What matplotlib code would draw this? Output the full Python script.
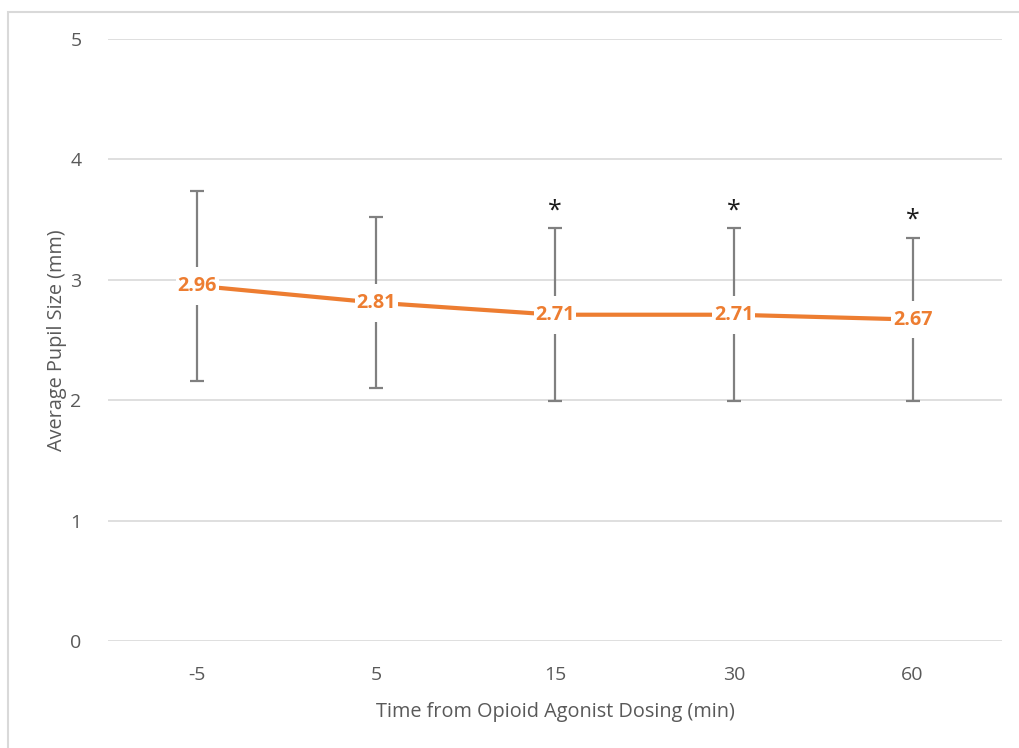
import matplotlib
matplotlib.use("Agg")
import matplotlib.pyplot as plt
from matplotlib.patches import Rectangle
from matplotlib.path import Path

categories = ["-5", "5", "15", "30", "60"]
means = [2.96, 2.81, 2.71, 2.71, 2.67]
line_y = [2.95, 2.81, 2.71, 2.71, 2.67]
errors = [0.79, 0.71, 0.72, 0.72, 0.68]
significant = [False, False, True, True, True]
y_ticks = [0, 1, 2, 3, 4, 5]

plt.rcParams['font.family'] = ['Open Sans', 'DejaVu Sans']


def label_box(x0, y0, width, height, mutation_size):
    px = 0.08 * mutation_size
    py = 0.45 * mutation_size
    x0, x1 = x0 - px, x0 + width + px
    y0, y1 = y0 - py, y0 + height + py
    return Path([(x0, y0), (x1, y0), (x1, y1), (x0, y1), (x0, y0)], closed=True)


fig = plt.figure(figsize=(10.2, 7.48), dpi=100)
fig.patches.append(Rectangle((8/1020, -0.1), 1.2, 1 - 12/748 + 0.1, transform=fig.transFigure,
                             fill=False, edgecolor='#d9d9d9', linewidth=1.5))
ax = fig.add_axes([108/1020, 1 - 641/748, 894/1020, 602/748])

x = list(range(len(categories)))
ax.errorbar(x, line_y, yerr=errors, fmt='none', ecolor='#808080', elinewidth=1.6,
            capsize=5, capthick=1.6, zorder=2)
ax.plot(x, line_y, color='#ED7D31', linewidth=3, zorder=3, solid_capstyle='butt')

for xi, yi, m in zip(x, line_y, means):
    ax.text(xi, yi, f"{m:.2f}", ha='center', va='center', color='#ED7D31',
            fontsize=14.2, fontweight='bold', zorder=4,
            bbox=dict(boxstyle=label_box, facecolor='white', edgecolor='none'))

for xi, yi, e, s in zip(x, line_y, errors, significant):
    if s:
        ax.text(xi, yi + e + 0.04, "*", ha='center', va='bottom', color='#1a1a1a',
                fontsize=18, zorder=4)

ax.set_xlim(-0.5, len(categories) - 0.5)
ax.set_ylim(0, 5)
ax.set_yticks(y_ticks)
ax.set_xticks(x)
ax.set_xticklabels(categories)
ax.grid(axis='y', color='#d9d9d9', linewidth=1.2)
ax.set_axisbelow(True)
for sp in ax.spines.values():
    sp.set_visible(False)
ax.tick_params(axis='both', length=0, labelsize=14, labelcolor='#595959')
ax.tick_params(axis='y', pad=19)
ax.tick_params(axis='x', pad=18)
xl = ax.set_xlabel("Time from Opioid Agonist Dosing (min)", fontsize=14.3, color='#595959')
yl = ax.set_ylabel("Average Pupil Size (mm)", fontsize=14.3, color='#595959')
ax.xaxis.set_label_coords(0.5, (641 - 712) / 602)
ax.yaxis.set_label_coords((57 - 108) / 894, 0.5)
xl.set_va('center')
yl.set_va('center')

fig.savefig("out.png", dpi=100, facecolor='white')
